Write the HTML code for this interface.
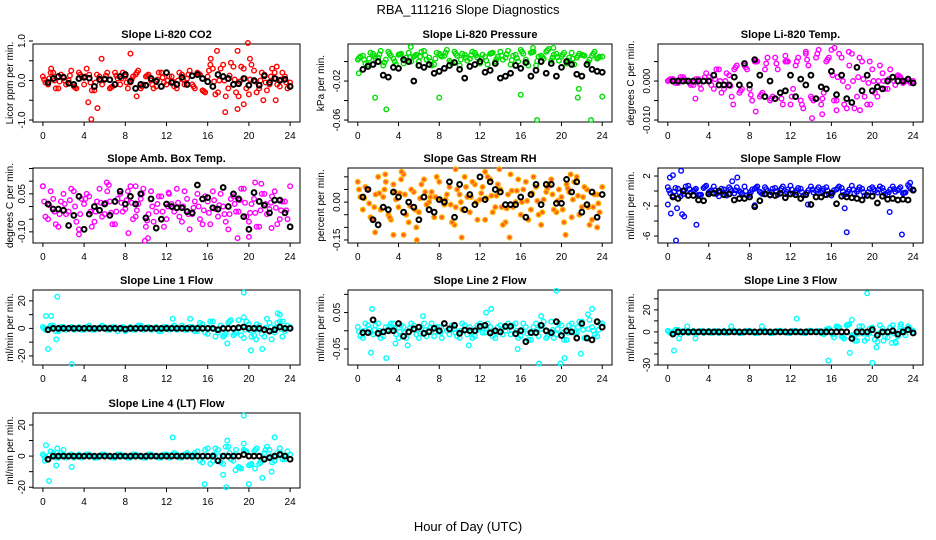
<!DOCTYPE html>
<html><head><meta charset="utf-8">
<style>
html,body{margin:0;padding:0;background:#fff;}
svg{display:block;font-family:"Liberation Sans",sans-serif;}
</style></head>
<body>
<svg id="chart" width="936" height="540" viewBox="0 0 936 540" xmlns="http://www.w3.org/2000/svg">
<rect width="936" height="540" fill="#fff"/>
<text x="468" y="14" text-anchor="middle" font-size="13">RBA_111216  Slope Diagnostics</text>
<text x="468" y="531" text-anchor="middle" font-size="13">Hour of Day (UTC)</text>
</svg>
<script>
const xTicks=[0,4,8,12,16,20,24];
const co2C1=[.1,-.1,.2,-.2,.1,.0,-.15,.2,-.1,.15,-.25,.1,.05,-.2,.2,-.1,.1,-.05,.15,-.2,.1,.0,-.15,.2,-.1,.1,-.2,.15,.05,-.1,.2,-.25,.1,.3,-.3,.4,-.2,.35,-.4,.3,-.35,.25,-.2,.15,-.1,.2,-.15,.1,-.05];
const co2C2=[-.05,.2,-.2,.15,-.1,.25,-.2,.1,.3,-.25,.15,-.1,.2,-.15,.05,.2,-.2,.1,.25,-.1,.15,-.2,.2,-.05,.1,-.15,.2,-.1,.25,-.2,.15,-.3,.4,-.35,.3,-.4,.45,-.3,.35,-.2,.4,-.3,.2,-.25,.3,-.1,.2,-.2,.1];
const co2Out=[[4.4,-.55],[4.7,-.98],[5.3,-.7],[8.5,.68],[5.7,.55],[16.3,.55],[16.9,.75],[17.7,-.8],[18.9,.75],[18.9,-.72],[19.9,.95],[19.5,-.6],[20.1,.55],[21.4,-.5],[22.6,-.5],[22.7,.35],[0.8,.3],[9.1,-.4]];
const co2Blk=[-.05,.05,.1,.08,-.07,-.1,.05,.08,.06,-.15,.03,.03,.02,-.1,.1,.15,-.02,-.2,-.1,-.12,.05,-.02,-.15,.2,-.05,-.1,.08,-.1,.12,.15,.05,-.03,-.15,.15,.1,.05,-.1,-.08,.05,-.12,.0,-.12,.12,-.05,.05,.0,.03,-.15];

const presC1=[.002,.006,-.003,.008,.004,-.004,.01,.003,.007,-.002,.009,.005,.0,.011,.004,-.003,.008,.006,.001,.01,-.004,.007,.003,.009,-.002,.005,.008,.0,.01,.004,-.003,.007,.012,.002,.009,-.004,.006,.01,.001,.008,.005,-.002,.009,.004,.007,-.003,.006,.003,.005];
const presC2=[.005,-.002,.009,.003,.011,.002,.006,-.003,.008,.004,.0,.007,.01,.002,-.004,.009,.005,.012,-.002,.006,.008,.001,.01,.004,.007,-.003,.009,.005,.002,.011,.006,.0,.008,-.004,.01,.005,.003,.013,.007,.001,.009,.004,-.003,.008,.006,.002,.01,.005,.001];
const presOut=[[0.1,-.012],[1.7,-.037],[2.8,-.049],[8,-.037],[16,-.034],[17.6,-.06],[21.6,-.037],[21.7,-.028],[22.9,-.06],[24,-.036],[5.2,.015],[19.2,.014],[17.2,.014]];
const presBlk=[-.008,-.005,-.003,.0,-.014,-.016,-.006,-.007,.002,.0,-.02,-.004,-.006,-.003,-.012,-.01,-.007,-.004,-.001,-.008,-.017,-.005,-.003,.0,-.011,-.009,-.002,-.017,-.015,-.012,-.004,-.007,-.001,-.015,-.009,.0,-.012,-.002,-.015,-.006,.0,-.003,-.013,-.015,-.003,-.008,-.01,-.011];

const tempC1=[0,.0005,-.0005,.001,0,-.001,.0005,0,.001,-.002,.003,-.002,.0015,.003,-.003,.004,-.002,.005,-.004,.003,-.005,.006,-.003,.005,-.006,.004,-.005,.007,-.004,.006,-.006,.005,.008,-.005,.006,-.007,.007,-.004,.005,-.006,.003,-.004,.002,-.002,.001,.0015,-.0005,.0005,0];
const tempC2=[.0005,-.0005,.001,0,-.001,.0005,-.002,.002,-.001,.003,-.003,.002,-.004,.004,-.002,.003,-.005,.005,-.003,.006,-.004,.003,-.006,.005,-.002,.006,-.007,.004,-.005,.008,-.003,.006,-.005,.007,-.006,.004,-.007,.006,-.004,.005,-.003,.004,-.002,.003,-.001,.001,0,-.0005,.0005];
const tempOut=[[2.7,-.0045],[6.4,-.006],[11.5,.0065],[13.5,.0075],[14.1,-.0095],[15.1,-.0085],[16.3,.0085],[16.5,-.0075],[17.7,.0075],[18.8,-.0075],[19.8,-.006],[8.6,-.0078]];
const tempBlk=[0,0,0,0,0,0,0,0,.0015,-.001,-.001,-.001,.001,-.001,.0045,-.001,.0055,.0015,-.004,0,-.0045,-.003,-.0025,.0015,-.004,.0005,-.001,.0015,-.0045,-.0015,-.002,.0025,-.0035,.0015,-.0045,-.0055,.0035,-.0025,.0015,-.0025,-.0015,-.002,0,.001,0,0,.0005,-.0005];

const ambC1=[.08,-.05,.03,-.08,.05,-.02,.06,-.09,.01,.04,-.06,.07,-.03,.02,-.07,.05,-.01,.08,-.04,.03,-.08,.06,-.02,.04,-.05,.01,.07,-.06,.03,-.03,.05,-.07,.02,.06,-.04,.0,-.09,.04,-.02,.07,-.06,.03,-.08,.05,-.01,.06,-.05,.02,.08];
const ambC2=[-.04,.06,-.07,.02,-.03,.07,-.06,.03,.05,-.08,.02,-.04,.06,-.07,.03,-.02,.06,-.05,.01,.07,-.03,-.06,.04,-.08,.05,-.02,-.04,.06,-.09,.02,-.05,.04,-.07,-.01,.05,-.06,.03,-.02,.07,-.04,.01,-.08,.05,-.03,.04,-.07,.02,-.05,.03];
const ambOut=[[0,.08],[3.5,-.11],[6.2,.095],[6.4,.085],[8.3,-.105],[9.9,-.135],[10.2,-.125],[18.9,-.125],[20,-.12],[20.6,.095],[21.2,.09],[12.2,.055],[9,.08],[22.2,-.085]];
const ambBlk=[.01,-.01,-.01,-.015,-.075,-.035,.04,-.09,-.03,.0,-.015,.01,-.035,.02,.06,.01,.04,.01,.05,-.045,.03,-.085,-.05,.01,.0,-.005,-.005,-.02,-.025,.085,.03,.035,-.005,-.01,.075,.0,.05,.03,-.04,-.09,.055,.02,.005,-.025,.025,.025,-.025,-.08];

const rhC1=[.08,-.03,.05,-.07,.1,.02,-.05,.07,-.02,.11,-.08,.04,-.04,.09,.0,-.06,.08,-.01,.06,-.09,.03,.1,-.04,.07,.01,-.07,.09,-.02,.05,-.08,.11,.0,-.05,.08,-.03,.06,-.09,.04,.09,-.04,.02,.07,-.06,.1,-.02,.05,-.07,.03,.06];
const rhC2=[.02,.06,-.06,.03,-.03,.08,-.07,.01,.09,-.05,.05,-.1,.07,-.01,.04,.1,-.06,.03,-.08,.05,-.03,.02,.08,-.07,.06,.1,-.04,.07,-.09,.03,-.02,.09,.05,-.07,.1,-.05,.01,.07,-.03,.05,-.08,.04,.08,-.05,.06,-.09,.03,-.04,.01];
const rhOut=[[1.7,-.12],[3.5,-.13],[4.5,-.13],[4.3,.12],[2.7,.11],[5.8,-.15],[10.2,-.14],[9.6,.13],[13.9,.13],[14.9,-.14],[20.4,-.13],[20.9,.11],[23.5,-.1],[12.5,.12]];
const rhBlk=[.02,.05,-.07,-.09,-.02,-.03,.04,.02,-.04,.0,-.02,-.07,.02,-.03,-.04,.01,.0,.08,-.06,.07,-.03,.03,-.01,.1,.01,.08,.05,.04,-.01,-.01,-.01,.02,-.06,.03,.07,-.01,.07,.07,-.005,-.005,.09,.04,.08,-.04,-.01,.04,-.06,.03];

const sfC1=[.5,-.6,.3,-.4,.7,.0,-.5,.4,-.2,.6,-.7,.2,.5,-.3,.0,.6,-.5,.3,-.1,.5,-.6,.4,.1,-.4,.7,-.2,.3,-.5,.6,.0,-.3,.5,-.6,.2,.4,-.4,.7,-.1,.3,-.6,.5,-.2,.4,-.5,.6,.1,-.3,.8,.2];
const sfC2=[-.3,.4,-.7,.6,-.2,.3,-.5,.7,.1,-.4,.3,-.6,.0,.5,-.3,-.6,.2,.6,-.4,.0,.3,-.5,.6,.2,-.3,.4,-.6,.1,-.2,.5,.3,-.4,.1,.6,-.5,.2,-.3,.5,-.6,.3,.0,.6,-.4,.2,-.1,.5,-.2,.3,.9];
const sfOut=[[0,-1.8],[.2,1.8],[.3,-3],[.5,2.1],[.8,-6.6],[.9,-2.3],[1.4,-3.1],[1.6,-3.4],[1.3,2.7],[2.8,-4.5],[6.3,1.3],[6.8,1.8],[13.7,-1.8],[17.3,-2.3],[17.5,-5.5],[21.7,-2.8],[22.9,-5.8],[23.7,1.1],[8.5,-1.9]];
const sfBlk=[-.8,-1,0,-.6,-.6,-1.2,-1.3,-.4,-.3,0,-.5,-.4,-1.2,-1,-1,-.8,-2.1,-1.3,-.4,-.5,-.6,-.3,-.9,-.4,-.5,-1,-.5,-1.8,-.8,-.8,-.5,-.3,-1.7,-.7,-.8,-.9,-1,-1.2,-.6,-.7,-1.6,-.7,-1.1,-1,-1.2,-1.1,-1.2,.1];

const l1C1=[1,-1,2,-2,1,0,-1,1,-1,2,-1,0,1,-1,1,0,-2,1,-1,2,0,-1,1,-2,1,0,-1,2,-1,1,-2,3,-4,5,-3,-6,4,-5,6,-7,3,-5,2,-6,4,-3,5,-2,1];
const l1C2=[-1,2,-2,1,-1,1,0,-1,1,-1,0,2,-1,1,-2,1,0,-1,2,-1,1,0,-2,1,-1,2,0,-1,1,-2,4,-3,5,-6,2,-4,6,-3,-5,5,-6,3,-4,7,-2,4,-6,2,-1];
const l1Out=[[.3,9],[.8,9],[1.4,23],[.5,-15],[1.3,-8],[2.8,-26],[12.6,7],[14.3,7],[17.9,-11],[19.5,26],[19.5,8],[20.2,-16],[20.7,-8],[21.3,-15],[22.2,-8],[23,10],[22.8,11],[23.3,5]];
const l1Blk=[-1,0,0,0,0,0,0,0,0,0,0,0,0,0,0,-.5,0,0,0,0,0,0,0,0,0,0,0,0,0,0,0,0,0,-1,0,0,0,.5,1,0,0,0,-1,-2,-1,1,0,0];

const l2C1=[.01,-.02,.015,-.01,.02,-.015,.005,.02,-.02,.01,-.005,.015,-.02,.02,.0,-.015,.01,.02,-.01,.005,-.02,.015,.01,-.015,.02,-.005,.01,-.02,.015,.0,-.01,.02,-.015,.01,-.025,.02,.005,-.02,.025,-.01,.015,-.025,.02,-.005,.025,-.02,.01,-.015,.02];
const l2C2=[-.015,.02,-.005,.015,-.02,.01,.02,-.01,.015,-.02,.02,-.01,.005,-.015,.02,.01,-.02,.0,.015,-.015,.02,-.01,-.02,.015,-.005,.02,-.015,.01,-.01,.02,.015,-.02,.02,-.025,.01,-.015,.025,-.01,-.02,.02,-.025,.015,-.005,.025,-.02,.03,-.01,.02,-.005];
const l2Out=[[1.3,-.06],[1.4,.06],[2.8,-.075],[3.7,-.035],[4.9,-.04],[6.4,.04],[10.9,-.04],[12.6,.05],[13.1,.06],[15.7,-.05],[17.8,-.09],[19.5,.11],[19.9,-.09],[20.3,-.075],[21.9,-.063],[22.6,.045],[23,.06],[18,.04]];
const l2Blk=[-.005,-.005,.03,-.007,-.003,.0,.0,.02,-.015,-.003,.005,.01,-.007,-.003,.007,.0,.02,.005,.015,-.007,.002,.0,.0,.012,.015,-.006,.0,-.003,.012,.012,-.008,.0,-.03,-.005,-.005,.015,.0,-.005,.025,-.013,.0,-.003,-.02,.02,-.02,-.025,.025,.01];

const l3C1=[1,-1,2,0,-1,1,0,-1,1,0,-1,1,0,1,-1,0,1,-1,0,1,-1,0,1,0,-1,1,0,-1,1,0,-1,2,0,5,-4,6,-3,-8,5,-6,4,-9,3,-5,6,-4,2,5,1];
const l3C2=[-1,2,-2,1,0,-1,1,0,-1,1,0,-1,1,0,-1,1,0,-1,1,0,-1,1,0,-1,1,0,-1,1,0,1,-2,3,-5,4,-6,7,-3,5,-8,3,-7,6,-4,4,-9,5,-3,2,3];
const l3Out=[[.6,-17],[1.1,-6],[1.9,5],[2.7,-6],[6.2,5],[9.2,5],[12.6,12],[15.7,-26],[17.8,-19],[18,11],[19.5,35],[20,-28],[20.4,-14],[21.1,-8],[21.9,-10],[22.3,-10],[22.8,7],[18.3,-8]];
const l3Blk=[-2,0,0,0,0,0,0,0,0,0,0,0,0,0,0,0,0,0,0,0,0,0,0,0,0,0,0,0,0,0,0,0,0,0,0,-6,0,0,0,2,-3,0,0,1,-2,0,2,-1];

const l4C1=[1,-2,2,-1,1,0,-1,1,0,1,-1,0,1,0,-1,1,0,-1,1,0,-1,1,0,-1,1,0,1,-1,2,-1,3,-4,5,-3,4,-5,6,-3,-7,4,-6,3,-5,2,4,-3,5,-2,1];
const l4C2=[-1,3,-1,2,-1,1,0,-1,1,0,-1,1,0,-1,1,0,-1,1,0,-1,1,0,-1,1,-1,2,-1,1,0,2,-3,4,-5,5,-4,6,-2,4,-8,3,-5,5,-3,6,-4,2,-2,3,0];
const l4Out=[[.3,7],[.2,-3],[.6,-16],[1.3,-6],[1.4,5],[2,4],[2.8,-7],[12.6,12],[15.7,-18],[17.5,-12],[17.8,-20],[17.9,10],[18.7,-9],[19.5,26],[19.5,8],[20,-18],[20.6,-8],[21.3,-14],[22.2,-10],[22.5,12],[23,5]];
const l4Blk=[-2,0,0,0,0,0,0,0,0,0,0,0,0,0,0,0,0,0,0,0,0,0,0,0,0,0,0,0,0,0,0,0,0,-3,0,0,0,0,1,0,0,0,-2,-1,0,1,0,-2];

const cols=[{L:33,R:300,ylx:13},{L:348,R:612,ylx:324},{L:658,R:923,ylx:634}];
const rows=[{T:44,B:122},{T:168,B:243},{T:290,B:365},{T:413,B:488}];
const panels=[
 {key:'co2',title:'Slope Li-820 CO2',ylab:'Licor ppm per min.',c:0,r:0,ylim:[-1.05,0.924],ticks:[-1,-0.5,0,0.5,1],labels:{'-1':'-1.0','0':'0.0','1':'1.0'},color:'#ff0000',d:[co2C1,co2C2,co2Out,co2Blk]},
 {key:'pressure',title:'Slope Li-820 Pressure',ylab:'kPa per min.',c:1,r:0,ylim:[-0.062,0.018],ticks:[-0.06,-0.04,-0.02,0],labels:{'-0.06':'-0.06','-0.02':'-0.02'},color:'#00dd00',d:[presC1,presC2,presOut,presBlk]},
 {key:'temp',title:'Slope Li-820 Temp.',ylab:'degrees C per min.',c:2,r:0,ylim:[-0.0105,0.0095],ticks:[-0.01,-0.005,0,0.005],labels:{'-0.01':'-0.010','0':'0.000'},color:'#ff00ff',d:[tempC1,tempC2,tempOut,tempBlk]},
 {key:'amb-box-temp',title:'Slope Amb. Box Temp.',ylab:'degrees C per min.',c:0,r:1,ylim:[-0.144,0.152],ticks:[-0.1,-0.05,0,0.05,0.1,0.15],labels:{'-0.1':'-0.10','0.05':'0.05'},color:'#ff00ff',d:[ambC1,ambC2,ambOut,ambBlk]},
 {key:'gas-stream-rh',title:'Slope Gas Stream RH',ylab:'percent per min.',c:1,r:1,ylim:[-0.162,0.135],ticks:[-0.15,-0.1,-0.05,0,0.05,0.1],labels:{'-0.15':'-0.15','0':'0.00'},color:'#ffb000',fill:'#ff5a20',d:[rhC1,rhC2,rhOut,rhBlk]},
 {key:'sample-flow',title:'Slope Sample Flow',ylab:'ml/min per min.',c:2,r:1,ylim:[-6.93,3.07],ticks:[-6,-4,-2,0,2],labels:{'-6':'-6','-2':'-2','2':'2'},color:'#0000ff',d:[sfC1,sfC2,sfOut,sfBlk]},
 {key:'line1-flow',title:'Slope Line 1 Flow',ylab:'ml/min per min.',c:0,r:2,ylim:[-26.6,27.9],ticks:[-20,-10,0,10,20],labels:{'-20':'-20','0':'0','20':'20'},color:'#00ffff',d:[l1C1,l1C2,l1Out,l1Blk]},
 {key:'line2-flow',title:'Slope Line 2 Flow',ylab:'ml/min per min.',c:1,r:2,ylim:[-0.094,0.112],ticks:[-0.05,0,0.05,0.1],labels:{'-0.05':'-0.05','0.05':'0.05'},color:'#00ffff',d:[l2C1,l2C2,l2Out,l2Blk]},
 {key:'line3-flow',title:'Slope Line 3 Flow',ylab:'ml/min per min.',c:2,r:2,ylim:[-30,38],ticks:[-30,-20,-10,0,10,20,30],labels:{'-30':'-30','0':'0','20':'20'},color:'#00ffff',d:[l3C1,l3C2,l3Out,l3Blk]},
 {key:'line4-flow',title:'Slope Line 4 (LT) Flow',ylab:'ml/min per min.',c:0,r:3,ylim:[-20.5,27.7],ticks:[-20,-10,0,10,20],labels:{'-20':'-20','0':'0','20':'20'},color:'#00ffff',d:[l4C1,l4C2,l4Out,l4Blk]}
];

const svg=document.getElementById('chart');
const NS='http://www.w3.org/2000/svg';
function mk(tag,attrs,parent){const e=document.createElementNS(NS,tag);for(const k in attrs)e.setAttribute(k,attrs[k]);parent.appendChild(e);return e;}

panels.forEach(p=>{
  const col=cols[p.c],row=rows[p.r];
  const xs=h=>col.L+(h+0.96)/25.92*(col.R-col.L);
  const ys=v=>row.B-(v-p.ylim[0])/(p.ylim[1]-p.ylim[0])*(row.B-row.T);
  const g=mk('g',{},svg);
  
  
  const t=mk('text',{x:(col.L+col.R)/2,y:row.T-6,'text-anchor':'middle','font-size':11,'font-weight':'bold'},g);
  t.textContent=p.title;
  
  
  const yl=mk('text',{x:col.ylx,y:(row.T+row.B)/2,'text-anchor':'middle','font-size':10,transform:`rotate(-90 ${col.ylx} ${(row.T+row.B)/2})`},g);
  yl.textContent=p.ylab;
  
  
  const box=mk('rect',{x:col.L,y:row.T,width:col.R-col.L,height:row.B-row.T,fill:'none',stroke:'#000','stroke-width':1},g);
  
  
  const xa=mk('g',{},g);
  
  
  xTicks.forEach(h=>{
    mk('line',{x1:xs(h),x2:xs(h),y1:row.B,y2:row.B+4,stroke:'#000'},xa);
    const l=mk('text',{x:xs(h),y:row.B+17,'text-anchor':'middle','font-size':10},xa);
    l.textContent=h;
    
    
  });
  const ya=mk('g',{},g);
  
  
  p.ticks.forEach(v=>{
    const y=ys(v);
    mk('line',{x1:col.L-4,x2:col.L,y1:y,y2:y,stroke:'#000'},ya);
    const lab=p.labels[String(v)];
    if(lab!==undefined){
      const lx=col.L-8;
      const l=mk('text',{x:lx,y:y,'text-anchor':'middle','font-size':10,transform:`rotate(-90 ${lx} ${y})`},ya);
      l.textContent=lab;
      
      
    }
  });
  const clip=v=>Math.max(row.T-2,Math.min(row.B+2,v));
  const pts=mk('g',{},g);
  
  
  const dot=(h,v,color,sw,fill,name,r)=>{
    const c=mk('circle',{cx:xs(h),cy:clip(ys(v)),r:r||2.3,fill:fill||'none',stroke:color,'stroke-width':sw},pts);
    
    
  };
  const [c1,c2,out,blk]=p.d;
  c1.forEach((v,i)=>{const h=i*0.5;if(h<=24)dot(h,v,p.color,1.4,p.fill,'point');});
  c2.forEach((v,i)=>{const h=i*0.5+0.25;if(h<=24)dot(h,v,p.color,1.4,p.fill,'point');});
  c1.forEach((v,i)=>{const h=i*0.5+0.12;if(h<=24)dot(h,(v+c2[i])/2,p.color,1.4,p.fill,'point');});
  out.forEach(o=>dot(o[0],o[1],p.color,1.4,p.fill,'outlier-point'));
  blk.forEach((v,i)=>dot(0.5+i*0.5,v,'#000',2,null,'black-point',2.4));
});
</script>
</body></html>
